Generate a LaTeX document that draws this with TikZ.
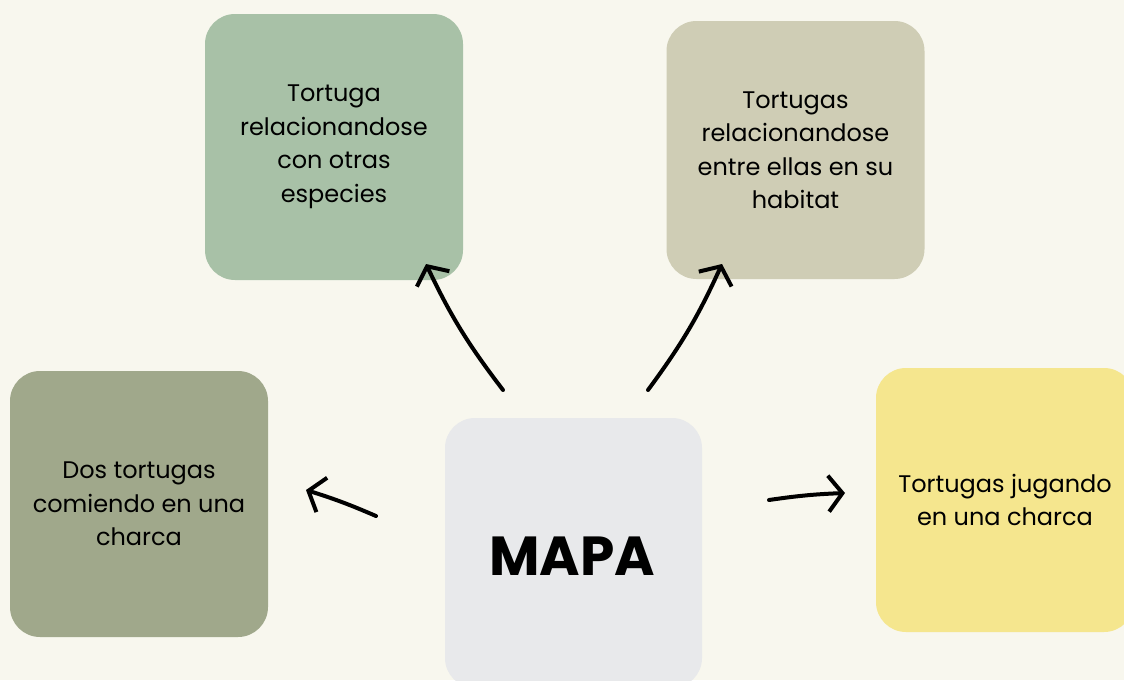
\documentclass[tikz,border=0pt]{standalone}
\usepackage{fontspec}
\setmainfont{Poppins}
\usetikzlibrary{arrows.meta}
\definecolor{fondo}{HTML}{F8F7EE}
\definecolor{cajaverde}{HTML}{A8C1A7}
\definecolor{cajabeige}{HTML}{CFCDB5}
\definecolor{cajaolivo}{HTML}{A0A88B}
\definecolor{cajagris}{HTML}{E8E9EB}
\definecolor{cajaamarilla}{HTML}{F5E68E}
\tikzset{
  caja/.style={rectangle,rounded corners=30pt,minimum width=258pt,minimum height=266pt,
    align=center,inner sep=0pt,font=\fontsize{24}{33.5}\selectfont},
  flecha/.style={-{Straight Barb[length=14pt,width=36pt]},line width=4pt,line cap=round},
}
\begin{document}
\begin{tikzpicture}[x=1pt,y=-1pt]
\useasboundingbox[fill=fondo] (0,0) rectangle (1124,680);
% \draw[help lines,step=50] (0,0) grid (1124,680);
\node (verde) [caja,fill=cajaverde] at (334,147) {Tortuga\\relacionandose\\con otras\\especies};
\node (beige) [caja,fill=cajabeige,minimum height=258pt] at (795.5,150) {Tortugas\\relacionandose\\entre ellas en su\\habitat};
\node (olivo) [caja,fill=cajaolivo] at (139,504) {Dos tortugas\\comiendo en una\\charca};
\node (amarilla) [caja,fill=cajaamarilla,minimum height=264pt] at (1005,500) {Tortugas jugando\\en una charca};
\node (gris) [caja,fill=cajagris,minimum width=257pt,minimum height=270pt] at (573.5,553) {};
\node (mapa) [font=\fontsize{55}{55}\selectfont\bfseries] at (572,556) {MAPA};
%
\coordinate (s1) at (503,390);
\coordinate (e1) at (426,264);
\coordinate (s2) at (648,390);
\coordinate (e2) at (722,264);
\coordinate (s3) at (376,516);
\coordinate (e3) at (306,490);
\coordinate (s4) at (769,500);
\coordinate (e4) at (845,493);
%
\path[flecha](s1) edge[bend left=6] (e1);
\path[flecha](s2) edge[bend right=6] (e2);
\path[flecha](s3) edge[bend right=3] (e3);
\path[flecha](s4) edge[bend left=3] (e4);
\end{tikzpicture}
\end{document}
